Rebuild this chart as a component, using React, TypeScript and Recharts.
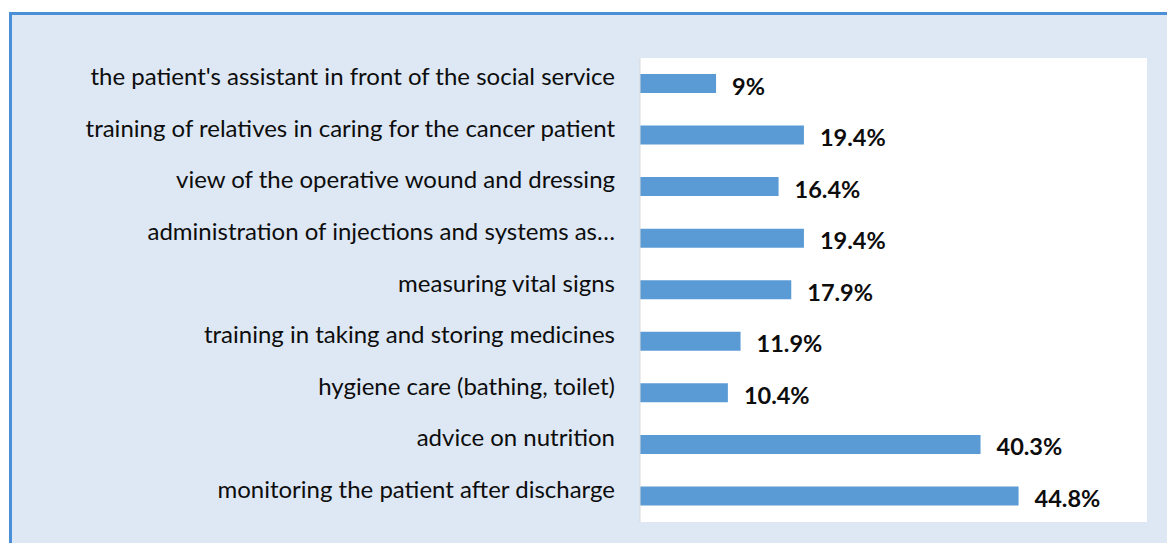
import { BarChart, Bar, XAxis, YAxis, CartesianGrid, LabelList } from 'recharts';

const categories = [
  "the patient's assistant in front of the social service",
  'training of relatives in caring for the cancer patient',
  'view of the operative wound and dressing',
  'administration of injections and systems as…',
  'measuring vital signs',
  'training in taking and storing medicines',
  'hygiene care (bathing, toilet)',
  'advice on nutrition',
  'monitoring the patient after discharge',
];

const percents = [9, 19.4, 16.4, 19.4, 17.9, 11.9, 10.4, 40.3, 44.8];

const data = categories.map((name, i) => ({ name, value: percents[i] }));

const FONT = 'Lato, "Open Sans", sans-serif';
const BAR_BLUE = '#5b9bd5';

// eslint-disable-next-line @typescript-eslint/no-explicit-any
const CategoryTick = ({ x, y, payload }: any) => (
  <text
    x={x}
    y={y}
    dy={-8}
    textAnchor="end"
    dominantBaseline="central"
    fontFamily={FONT}
    fontSize={24}
    fill="#0d0d0d"
  >
    {payload.value}
  </text>
);

// eslint-disable-next-line @typescript-eslint/no-explicit-any
const ValueLabel = ({ x, y, width, height, value }: any) => (
  <text
    x={x + width + 16}
    y={y + height / 2 + 2}
    dominantBaseline="central"
    fontFamily={FONT}
    fontSize={23.5}
    fontWeight={700}
    fill="#0d0d0d"
  >
    {value}%
  </text>
);

export default function App() {
  return (
    <div style={{ position: 'absolute', left: 0, top: 0, width: 1167, height: 543, background: '#fff', overflow: 'hidden' }}>
      <div
        style={{
          position: 'absolute',
          left: 9,
          top: 12,
          width: 1160,
          height: 540,
          background: '#dde8f4',
          borderTop: '3px solid #4b8fd6',
          borderLeft: '3px solid #4b8fd6',
        }}
      />
      <div style={{ position: 'absolute', left: 0, top: 0 }}>
        <BarChart
          width={1167}
          height={543}
          data={data}
          layout="vertical"
          margin={{ top: 58, right: 20, bottom: 21, left: 0 }}
        >
          <CartesianGrid fill="#fff" horizontal={false} vertical={false} />
          <XAxis type="number" domain={[0, 60]} hide />
          <YAxis
            type="category"
            dataKey="name"
            width={640}
            tickLine={false}
            tickSize={0}
            tickMargin={25}
            axisLine={{ stroke: '#d9d9d9' }}
            tick={<CategoryTick />}
            interval={0}
          />
          <Bar dataKey="value" fill={BAR_BLUE} barSize={19} isAnimationActive={false}>
            <LabelList dataKey="value" content={<ValueLabel />} />
          </Bar>
        </BarChart>
      </div>
    </div>
  );
}
